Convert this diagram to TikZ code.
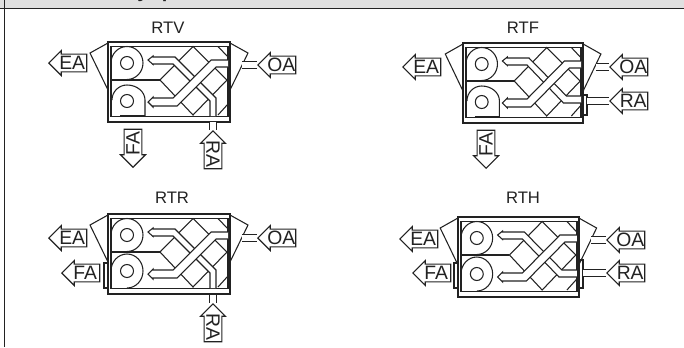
\documentclass[tikz,border=0pt]{standalone}
\usepackage{fontspec}
\setmainfont{Liberation Sans}
\usepackage{xcolor}
\usetikzlibrary{shapes.arrows, positioning}
\definecolor{barfill}{HTML}{E0E0E0}
\definecolor{darkline}{HTML}{222222}
\tikzset{
  unitline/.style={line width=0.8pt, darkline},
  unitframe/.style={line width=1.1pt, darkline},
  ductline/.style={darkline, line width=0.8pt, double=white, double distance=4.2pt},
  airtag/.style={single arrow, draw=darkline, fill=white, line width=0.8pt, anchor=tip, shape border rotate=180,
    minimum height=28.5pt, minimum width=18.75pt, single arrow head extend=2.2pt, inner sep=0pt,
    font=\fontsize{14.5}{14.5}\selectfont, text=darkline},
  unittitle/.style={font=\fontsize{12.5}{12.5}\selectfont, text=darkline},
  bartext/.style={anchor=base, inner sep=0pt, font=\fontsize{15}{15}\selectfont\bfseries, text=darkline},
}
% casing, hoods and exchanger of one unit, origin at the top left of the casing
\newcommand{\unitcase}{
  \draw[unitframe] (0,0) rectangle (122,80);
  \draw[unitframe] (3,4.5) rectangle (120,74.5);
  \draw[unitline] (0,1) -- (-18,11) -- (0,48);
  \draw[unitline] (122,1) -- (140,11) -- (122,48);
  % exchanger
  \draw[unitline] (52,38) -- (85,4.5) -- (119,38) -- (85,73) -- cycle;
  \draw[unitline] (110,4.5) -- (120,15);
  \draw[unitline] (110,73) -- (120,62);
}
% return air channel, leaving through the bottom
\newcommand{\returndown}{
  \fill[white] (40,18) -- (45,15) -- (67,15) -- (108,56) -- (108,74) -- (102,74) -- (102,59) -- (65,22) -- (45,22) -- cycle;
  \draw[unitline] (108,74) -- (108,56) -- (67,15) -- (45,15) -- (45,14) -- (40,18) -- (45,22.5) -- (45,22) -- (65,22) -- (102,59) -- (102,74);
}
% return air channel, leaving through the side
\newcommand{\returnside}{
  \fill[white] (40,18) -- (45,15) -- (67,15) -- (105,53) -- (120,53) -- (120,60) -- (102,60) -- (65,22) -- (45,22) -- cycle;
  \draw[unitline] (120,53) -- (105,53) -- (67,15) -- (45,15) -- (45,14) -- (40,18) -- (45,22.5) -- (45,22) -- (65,22) -- (102,60) -- (120,60);
}
% outdoor air channel and upper fan
\newcommand{\unitfans}{
  \fill[white] (40,60) -- (45,56) -- (65,56) -- (103,18) -- (120,18) -- (120,25) -- (108,25) -- (69,64) -- (45,64) -- cycle;
  \draw[unitline] (120,18) -- (103,18) -- (65,56) -- (45,56) -- (45,55) -- (40,60) -- (45,65) -- (45,64) -- (69,64) -- (108,25) -- (120,25);
  \draw[unitline] (3,38) -- (52,38);
  \draw[unitline] (19,21) circle (6.5);
  \draw[unitline] (3,21) arc (180:450:16 and 16.5);
}
% lower fan blowing down
\newcommand{\fanflat}{
  \draw[unitline] (19,59) circle (6.5);
  \draw[unitline] (4,58) arc (180:270:15) -- (19,43) arc (270:360:18 and 15) -- (37,74);
  \draw[darkline, line width=2pt] (12,74) -- (37,74);
}
% lower fan blowing to the side
\newcommand{\fanround}{
  \draw[unitline] (19,57) circle (6.5);
  \draw[unitline] (3,57) arc (180:450:16 and 17);
}
\begin{document}
\begin{tikzpicture}[x=0.75pt, y=-0.75pt]
  \useasboundingbox (0,0) rectangle (684,347);

  % Title bar
  \fill[barfill] (0,0) rectangle (684,8);
  \draw[darkline, line width=1.1pt] (0,8.5) -- (684,8.5);
  \draw[darkline, line width=1.1pt] (4.5,0) -- (4.5,347);
  \node[bartext] (baryy) at (143,-2.5) {y};
  \node[bartext] (barpp) at (168,-2.5) {p};

  % RTV
  \begin{scope}[shift={(108,42)}]
    \unitcase \returndown \unitfans \fanflat
  \end{scope}
  \node[unittitle] (rtvtitle) at (168,28) {RTV};
  \node[airtag] (rtvea) at (48,63) {EA};
  \node[airtag] (rtvoa) at (257,65) {OA};
  \node[airtag, rotate=90] (rtvfa) at (133,168) {FA};
  \node[airtag, rotate=-90] (rtvra) at (213,130) {RA};
  \coordinate (rtvoaduct) at (242,65);
  \coordinate (rtvraduct) at (213,122);
  \draw[ductline] (rtvoaduct) -- (rtvoa.tip);
  \draw[ductline] (rtvraduct) -- (rtvra.tip);

  % RTF
  \begin{scope}[shift={(463,43)}, xscale=0.985]
    \unitcase \returnside \unitfans \fanflat
  \end{scope}
  \draw[unitline] (583,95) -- (587,95) -- (587,115) -- (583,115);
  \node[unittitle] (rtftitle) at (523,28) {RTF};
  \node[airtag] (rtfea) at (402,67) {EA};
  \node[airtag] (rtfoa) at (609,67) {OA};
  \node[airtag] (rtfra) at (609,101) {RA};
  \node[airtag, rotate=90] (rtffa) at (486,169) {FA};
  \coordinate (rtfoaduct) at (596,67);
  \coordinate (rtfraduct) at (587,101);
  \draw[ductline] (rtfoaduct) -- (rtfoa.tip);
  \draw[ductline] (rtfraduct) -- (rtfra.tip);

  % RTR
  \begin{scope}[shift={(108,214)}]
    \unitcase \returndown \unitfans \fanround
  \end{scope}
  \draw[unitline] (108,263) -- (104,263) -- (104,288) -- (108,288);
  \node[unittitle] (rtrtitle) at (172,198) {RTR};
  \node[airtag] (rtrea) at (48,238) {EA};
  \node[airtag] (rtrfa) at (61,273) {FA};
  \node[airtag] (rtroa) at (257,238) {OA};
  \node[airtag, rotate=-90] (rtrra) at (213,303) {RA};
  \coordinate (rtroaduct) at (242,238);
  \coordinate (rtrraduct) at (213,295);
  \draw[ductline] (rtroaduct) -- (rtroa.tip);
  \draw[ductline] (rtrraduct) -- (rtrra.tip);

  % RTH
  \begin{scope}[shift={(458,217)}, xscale=0.99]
    \unitcase \returnside \unitfans \fanround
  \end{scope}
  \draw[unitline] (458,263) -- (454,263) -- (454,288) -- (458,288);
  \draw[unitline] (579,260) -- (583,260) -- (583,288) -- (579,288);
  \node[unittitle] (rthtitle) at (523,198) {RTH};
  \node[airtag] (rthea) at (399,239) {EA};
  \node[airtag] (rthfa) at (412,273) {FA};
  \node[airtag] (rthoa) at (606,240) {OA};
  \node[airtag] (rthra) at (606,273) {RA};
  \coordinate (rthoaduct) at (591,240);
  \coordinate (rthraduct) at (583,273);
  \draw[ductline] (rthoaduct) -- (rthoa.tip);
  \draw[ductline] (rthraduct) -- (rthra.tip);
\end{tikzpicture}
\end{document}
